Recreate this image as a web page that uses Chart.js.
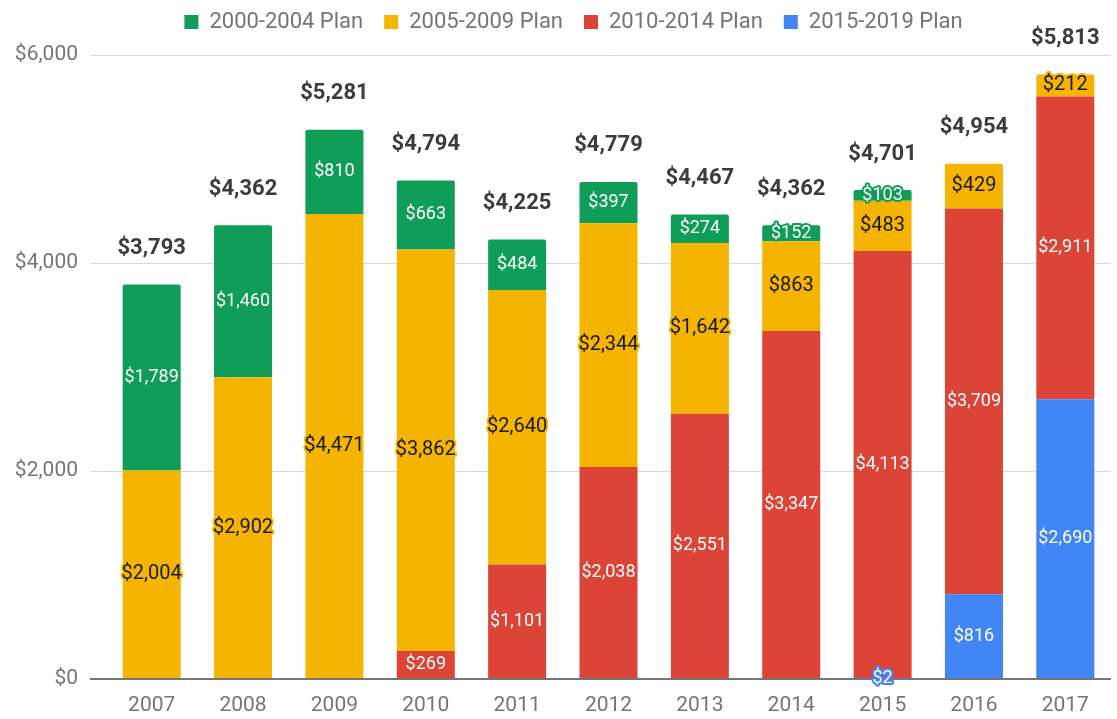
<!DOCTYPE html>
<html>
<head>
<meta charset="utf-8">
<script src="https://cdn.jsdelivr.net/npm/chart.js@4.4.1/dist/chart.umd.min.js"></script>
<style>
  html, body { margin: 0; padding: 0; background: #fff; }
  #wrap { width: 1117px; height: 719px; }
</style>
</head>
<body>
<div id="wrap"><canvas id="c" width="1117" height="719"></canvas></div>
<script>
const years = ['2007','2008','2009','2010','2011','2012','2013','2014','2015','2016','2017'];
const plan2000 = [1789, 1460, 810, 663, 484, 397, 274, 152, 103, 0, 0];
const plan2005 = [2004, 2902, 4471, 3862, 2640, 2344, 1642, 863, 483, 429, 212];
const plan2010 = [0, 0, 0, 269, 1101, 2038, 2551, 3347, 4113, 3709, 2911];
const plan2015 = [0, 0, 0, 0, 0, 0, 0, 0, 2, 816, 2690];
const totals = [3793, 4362, 5281, 4794, 4225, 4779, 4467, 4362, 4701, 4954, 5813];
const yTicks = [0, 2000, 4000, 6000];

const GREEN = '#0F9D58', YELLOW = '#F4B400', RED = '#DB4437', BLUE = '#4285F4';
const fmt = v => '$' + v.toLocaleString('en-US');
const FONT = 'Roboto, "Noto Sans", sans-serif';

const legendFix = {
  id: 'legendFix',
  beforeLayout(chart) {
    const lg = chart.legend;
    if (lg && !lg._wrapped) {
      const orig = lg.fit;
      lg.fit = function () { orig.call(this); this.height = 55; };
      lg._wrapped = true;
    }
  },
  afterLayout(chart) {
    const lg = chart.legend;
    if (lg) { lg.left += 36; lg.top -= 10; }
  }
};

const labelPlugin = {
  id: 'segLabels',
  afterDatasetsDraw(chart) {
    const ctx = chart.ctx;
    ctx.save();
    ctx.textAlign = 'center';
    ctx.textBaseline = 'middle';
    ctx.lineJoin = 'round';
    chart.data.datasets.forEach((ds, di) => {
      const meta = chart.getDatasetMeta(di);
      if (meta.hidden) return;
      meta.data.forEach((bar, i) => {
        const v = ds.data[i];
        if (!v) return;
        const cy = (bar.y + bar.base) / 2;
        ctx.font = ds.labelSize + 'px ' + FONT;
        ctx.lineWidth = 4;
        ctx.strokeStyle = ds.backgroundColor;
        ctx.strokeText(fmt(v), bar.x, cy);
        ctx.fillStyle = ds.labelColor;
        ctx.fillText(fmt(v), bar.x, cy);
      });
    });
    const yScale = chart.scales.y;
    const xScale = chart.scales.x;
    ctx.font = 'bold 22px ' + FONT;
    ctx.fillStyle = '#3c3c3c';
    totals.forEach((t, i) => {
      const x = xScale.getPixelForValue(i);
      const y = yScale.getPixelForValue(t) - 36;
      ctx.fillText(fmt(t), x, y);
    });
    ctx.restore();
  }
};

new Chart(document.getElementById('c'), {
  type: 'bar',
  data: {
    labels: years,
    datasets: [
      { label: '2015-2019 Plan', data: plan2015, backgroundColor: BLUE, labelColor: '#ffffff', labelSize: 18 },
      { label: '2010-2014 Plan', data: plan2010, backgroundColor: RED, labelColor: '#ffffff', labelSize: 18 },
      { label: '2005-2009 Plan', data: plan2005, backgroundColor: YELLOW, labelColor: '#1a1a1a', labelSize: 20 },
      { label: '2000-2004 Plan', data: plan2000, backgroundColor: GREEN, labelColor: '#ffffff', labelSize: 18 }
    ]
  },
  options: {
    responsive: false,
    animation: false,
    devicePixelRatio: 1,
    layout: { padding: { left: 0, right: 6, top: 0, bottom: 0 } },
    datasets: {
      bar: {
        barPercentage: 0.635,
        categoryPercentage: 1.0,
        borderRadius: 2,
        borderSkipped: 'bottom'
      }
    },
    plugins: {
      legend: {
        position: 'top',
        reverse: true,
        labels: {
          boxWidth: 14,
          boxHeight: 14,
          padding: 21,
          color: '#757575',
          font: { family: FONT, size: 22 }
        }
      },
      tooltip: { enabled: false }
    },
    scales: {
      x: {
        stacked: true,
        afterFit: s => { s.height = 40; },
        grid: { display: false, drawTicks: false },
        border: { display: false },
        ticks: { color: '#757575', font: { family: FONT, size: 21 }, padding: 14 }
      },
      y: {
        stacked: true,
        min: 0,
        max: 6000,
        afterBuildTicks: s => { s.ticks = yTicks.map(v => ({ value: v })); },
        afterFit: s => { s.width = 106; },
        border: { display: false },
        grid: {
          color: c => c.tick && c.tick.value === 0 ? '#757575' : '#d9d9d9',
          lineWidth: c => c.tick && c.tick.value === 0 ? 2 : 1,
          drawTicks: true,
          tickLength: 16
        },
        ticks: {
          color: '#757575',
          font: { family: FONT, size: 21 },
          padding: 12,
          callback: v => fmt(v)
        }
      }
    }
  },
  plugins: [legendFix, labelPlugin]
});
</script>
</body>
</html>
